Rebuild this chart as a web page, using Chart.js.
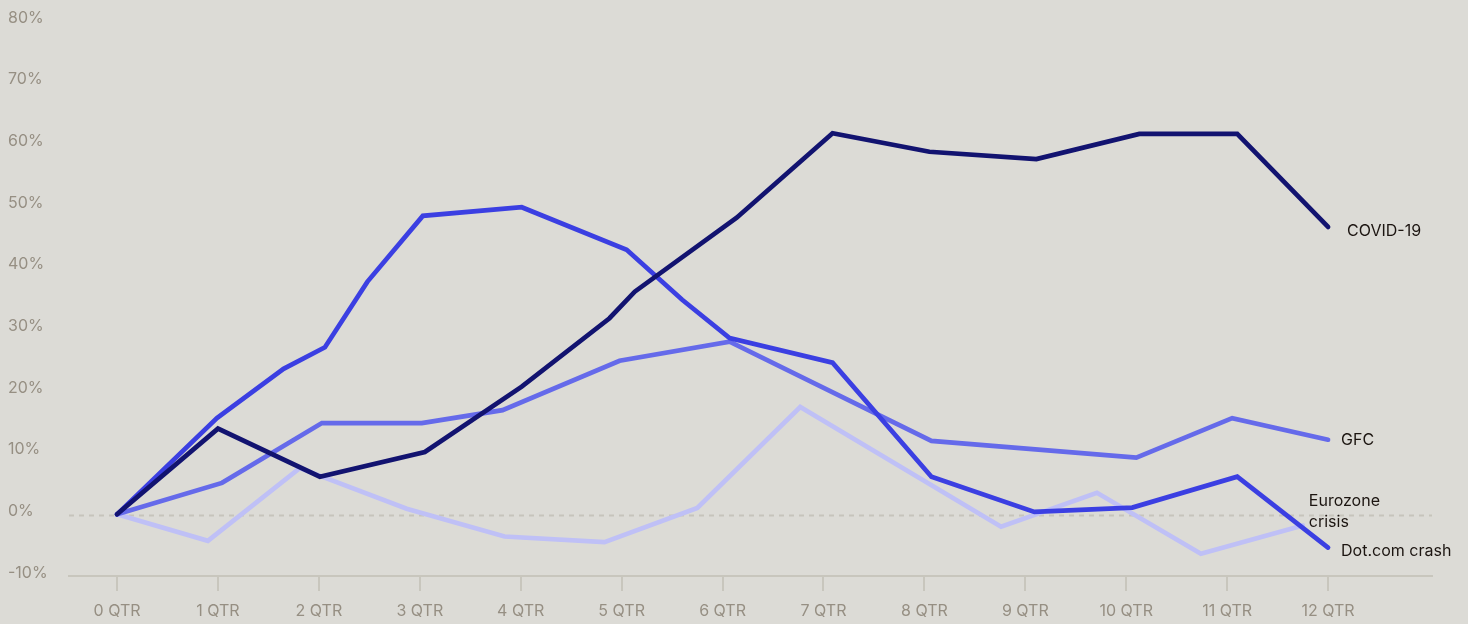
<!doctype html>
<html>
<head>
<title>Chart</title>
<script src="https://cdn.jsdelivr.net/npm/chart.js@4/dist/chart.umd.min.js"></script>
<style>
html, body { margin: 0; padding: 0; background: #dcdbd6; }
canvas { display: block; }
</style>
</head>
<body>
	<canvas id="canvas" width="1468" height="624"></canvas>

	<script>
		// quarter ticks on the x axis
		var quarterTicks = [0, 1, 2, 3, 4, 5, 6, 7, 8, 9, 10, 11, 12];
		var quarterLabels = ['0 QTR', '1 QTR', '2 QTR', '3 QTR', '4 QTR', '5 QTR', '6 QTR',
			'7 QTR', '8 QTR', '9 QTR', '10 QTR', '11 QTR', '12 QTR'];
		var percentTicks = [-10, 0, 10, 20, 30, 40, 50, 60, 70, 80];

		// series (x in quarters, y in %)
		var covidQtr = [0, 1, 2.01, 3.05, 4.01, 4.88, 5.13, 6.14, 7.09, 8.05, 9.11, 10.13, 11.1, 12];
		var covidVal = [0, 13.9, 6.1, 10.1, 20.7, 31.8, 36.1, 48.1, 61.8, 58.8, 57.6, 61.7, 61.7, 46.6];

		var dotcomQtr = [0, 0.99, 1.65, 2.06, 2.48, 3.03, 4.01, 5.05, 5.6, 6.07, 7.09, 8.07, 9.09, 10.06, 11.1, 12];
		var dotcomVal = [0, 15.6, 23.6, 27.1, 37.7, 48.4, 49.8, 42.9, 34.8, 28.6, 24.6, 6.1, 0.4, 1.1, 6.1, -5.4];

		var gfcQtr = [0, 1.04, 2.03, 3.02, 3.82, 4.98, 6.07, 8.07, 10.1, 11.05, 12];
		var gfcVal = [0, 5.1, 14.8, 14.8, 16.9, 24.9, 28.0, 11.9, 9.2, 15.6, 12.1];

		var euroQtr = [0, 0.9, 1.81, 2.87, 3.84, 4.83, 5.75, 6.77, 8.76, 9.71, 10.74, 11.75];
		var euroVal = [0, -4.3, 7.5, 0.9, -3.6, -4.5, 1.05, 17.4, -2.0, 3.5, -6.4, -1.8];

		var seriesNames = [['COVID-19'], ['Dot.com crash'], ['GFC'], ['Eurozone', 'crisis']];

		function toPoints(xs, ys) {
			return xs.map(function (x, i) { return { x: x, y: ys[i] }; });
		}

		var zeroLine = {
			id: 'zeroLine',
			beforeDatasetsDraw: function (chart) {
				var ctx = chart.ctx, area = chart.chartArea;
				var y = Math.round(chart.scales.y.getPixelForValue(0)) + 1.5;
				ctx.save();
				ctx.strokeStyle = '#c6c4bb';
				ctx.lineWidth = 2;
				ctx.setLineDash([5, 5]);
				ctx.beginPath();
				ctx.moveTo(area.left, y);
				ctx.lineTo(area.right, y);
				ctx.stroke();
				ctx.restore();
			}
		};

		// end-of-line labels
		var endLabels = {
			id: 'endLabels',
			afterDatasetsDraw: function (chart) {
				var ctx = chart.ctx;
				var offsets = [[19, 4], [13, 4], [13, 0], [6, -24]];
				ctx.save();
				ctx.font = '16px Inter';
				ctx.fillStyle = '#1c1511';
				ctx.textBaseline = 'middle';
				ctx.textAlign = 'left';
				chart.data.datasets.forEach(function (ds, i) {
					var pts = chart.getDatasetMeta(i).data;
					var last = pts[pts.length - 1];
					seriesNames[i].forEach(function (line, j) {
						ctx.fillText(line, last.x + offsets[i][0], last.y + offsets[i][1] + j * 21);
					});
				});
				ctx.restore();
			}
		};

		var lineStyle = {
			borderWidth: 4.7,
			pointRadius: 0,
			pointHoverRadius: 0,
			tension: 0,
			fill: false,
			borderCapStyle: 'round'
		};

		var ctx = document.getElementById('canvas').getContext('2d');
		window.myLine = new Chart(ctx, {
			type: 'line',
			data: {
				datasets: [
					Object.assign({ label: 'COVID-19', data: toPoints(covidQtr, covidVal), borderColor: '#121370' }, lineStyle),
					Object.assign({ label: 'Dot.com crash', data: toPoints(dotcomQtr, dotcomVal), borderColor: '#3b3fe2' }, lineStyle),
					Object.assign({ label: 'GFC', data: toPoints(gfcQtr, gfcVal), borderColor: '#656aea' }, lineStyle),
					Object.assign({ label: 'Eurozone crisis', data: toPoints(euroQtr, euroVal), borderColor: '#bfc0f6' }, lineStyle)
				]
			},
			options: {
				responsive: false,
				animation: false,
				devicePixelRatio: 1,
				layout: { padding: { left: 8, right: 36, top: 21, bottom: 0 } },
				plugins: {
					legend: { display: false },
					title: { display: false },
					tooltip: { enabled: false }
				},
				scales: {
					x: {
						type: 'linear',
						min: -0.476,
						max: 13.03,
						afterBuildTicks: function (s) {
							s.ticks = quarterTicks.map(function (v) { return { value: v }; });
						},
						afterFit: function (s) { s.height = 48; },
						grid: {
							display: true,
							drawOnChartArea: false,
							drawTicks: true,
							tickLength: 15,
							color: '#c8c6bd',
							lineWidth: 2
						},
						border: { display: true, color: '#c8c6bd', width: 2 },
						ticks: {
							padding: 11,
							color: '#968f83',
							font: { family: 'Inter', size: 16 },
							maxRotation: 0,
							autoSkip: false,
							callback: function (v, i) { return quarterLabels[i]; }
						}
					},
					y: {
						min: -10,
						max: 80,
						afterBuildTicks: function (s) {
							s.ticks = percentTicks.map(function (v) { return { value: v }; });
						},
						afterFit: function (s) { s.width = 61; },
						grid: { display: false },
						border: { display: false },
						ticks: {
							color: '#968f83',
							font: { family: 'Inter', size: 16 },
							crossAlign: 'far',
							labelOffset: -3,
							callback: function (v) { return v + '%'; }
						}
					}
				}
			},
			plugins: [zeroLine, endLabels]
		});
	</script>
</body>
</html>
